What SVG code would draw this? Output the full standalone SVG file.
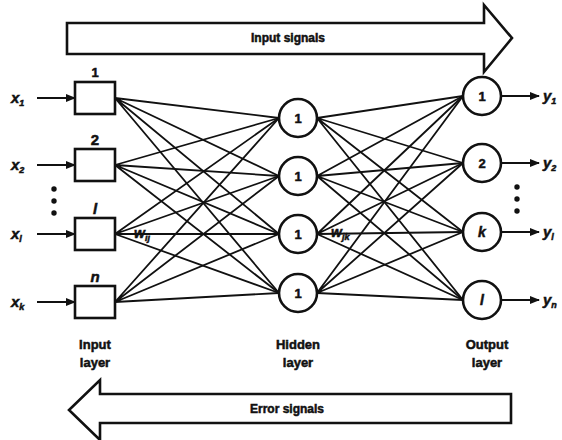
<svg xmlns="http://www.w3.org/2000/svg" width="562" height="440" viewBox="0 0 562 440">
<defs>
<marker id="ah" viewBox="0 0 10 10" refX="9" refY="5" markerWidth="11" markerHeight="10" markerUnits="userSpaceOnUse" orient="auto">
<path d="M0,1 L10,5 L0,9 Z" fill="#111"/>
</marker>
</defs>
<style>
.t{font-family:"Liberation Sans",Arial,sans-serif;font-weight:bold;fill:#111;stroke:#111;stroke-width:0.5}
.c{text-anchor:middle}
.i{font-style:italic}
.box{fill:#fff;stroke:#111;stroke-width:2.6}
.node{fill:#fff;stroke:#111;stroke-width:2.6}
.ln{stroke:#111;stroke-width:1.8;fill:none}
.io{stroke:#111;stroke-width:2.2;fill:none;marker-end:url(#ah)}
.big{fill:#fff;stroke:#111;stroke-width:2.6;stroke-linejoin:miter}
</style>
<rect width="562" height="440" fill="#fff"/>

<g id="input-signals">
<path class="big" d="M67,23 H484 V5 L512,38 L484,72 V54 H67 Z"/>
<text class="t c" x="288" y="42" font-size="12">Input signals</text>
</g>
<g id="error-signals">
<path class="big" d="M511,394 H100 V380 L69,410 L100,440 V423 H511 Z"/>
<text class="t c" x="287" y="413" font-size="12">Error signals</text>
</g>

<g id="connectors">
<path class="ln" d="M115,98 L279,118 M115,98 L279,176 M115,98 L279,234 M115,98 L279,293"/>
<path class="ln" d="M115,165 L279,118 M115,165 L279,176 M115,165 L279,234 M115,165 L279,293"/>
<path class="ln" d="M115,234 L279,118 M115,234 L279,176 M115,234 L279,234 M115,234 L279,293"/>
<path class="ln" d="M115,302 L279,118 M115,302 L279,176 M115,302 L279,234 M115,302 L279,293"/>
<path class="ln" d="M317,118 L463,96 M317,118 L463,163 M317,118 L463,232 M317,118 L463,300"/>
<path class="ln" d="M317,176 L463,96 M317,176 L463,163 M317,176 L463,232 M317,176 L463,300"/>
<path class="ln" d="M317,234 L463,96 M317,234 L463,163 M317,234 L463,232 M317,234 L463,300"/>
<path class="ln" d="M317,293 L463,96 M317,293 L463,163 M317,293 L463,232 M317,293 L463,300"/>
<path class="io" d="M37,98 H75"/>
<path class="io" d="M37,165 H75"/>
<path class="io" d="M37,234 H75"/>
<path class="io" d="M37,302 H75"/>
<path class="io" d="M501,96 H539"/>
<path class="io" d="M501,163 H539"/>
<path class="io" d="M501,232 H539"/>
<path class="io" d="M501,300 H539"/>
</g>

<g id="input-nodes">
<g id="in1"><rect class="box" x="75" y="82" width="40" height="32"/><text class="t c" x="95" y="77" font-size="13">1</text></g>
<g id="in2"><rect class="box" x="75" y="149" width="40" height="32"/><text class="t c" x="95" y="145" font-size="15">2</text></g>
<g id="inl"><rect class="box" x="75" y="218" width="40" height="32"/><text class="t c i" x="95" y="214" font-size="15">l</text></g>
<g id="inn"><rect class="box" x="75" y="286" width="40" height="32"/><text class="t c i" x="95" y="282" font-size="15">n</text></g>
</g>

<g id="hidden-nodes">
<g id="h1"><circle class="node" cx="298" cy="118" r="19"/><text class="t c" x="298" y="123" font-size="13">1</text></g>
<g id="h2"><circle class="node" cx="298" cy="176" r="19"/><text class="t c" x="298" y="181" font-size="13">1</text></g>
<g id="h3"><circle class="node" cx="298" cy="234" r="19"/><text class="t c" x="298" y="239" font-size="13">1</text></g>
<g id="h4"><circle class="node" cx="298" cy="293" r="19"/><text class="t c" x="298" y="298" font-size="13">1</text></g>
</g>

<g id="output-nodes">
<g id="o1"><circle class="node" cx="482" cy="96" r="19"/><text class="t c" x="482" y="101" font-size="13">1</text></g>
<g id="o2"><circle class="node" cx="482" cy="163" r="19"/><text class="t c" x="482" y="168" font-size="13">2</text></g>
<g id="ok"><circle class="node" cx="482" cy="232" r="19"/><text class="t c i" x="482" y="237" font-size="14">k</text></g>
<g id="ol"><circle class="node" cx="482" cy="300" r="19"/><text class="t c i" x="482" y="305" font-size="14">l</text></g>
</g>

<g id="labels">
<text class="t i" x="11" y="103" font-size="15">x<tspan font-size="9" dy="3">1</tspan></text>
<text class="t i" x="11" y="170" font-size="15">x<tspan font-size="9" dy="3">2</tspan></text>
<text class="t i" x="11" y="239" font-size="15">x<tspan font-size="9" dy="3">l</tspan></text>
<text class="t i" x="11" y="307" font-size="15">x<tspan font-size="9" dy="3">k</tspan></text>
<text class="t i" x="543" y="101" font-size="15">y<tspan font-size="9" dy="3">1</tspan></text>
<text class="t i" x="543" y="168" font-size="15">y<tspan font-size="9" dy="3">2</tspan></text>
<text class="t i" x="543" y="237" font-size="15">y<tspan font-size="9" dy="3">l</tspan></text>
<text class="t i" x="543" y="305" font-size="15">y<tspan font-size="9" dy="3">n</tspan></text>
<text class="t i" x="134" y="238" font-size="14">w<tspan font-size="9" dy="3">ij</tspan></text>
<text class="t i" x="331" y="237" font-size="14">w<tspan font-size="9" dy="3">jk</tspan></text>
<circle cx="54" cy="189" r="2.7" fill="#111"/>
<circle cx="54" cy="201" r="2.7" fill="#111"/>
<circle cx="54" cy="213" r="2.7" fill="#111"/>
<circle cx="517" cy="187" r="2.7" fill="#111"/>
<circle cx="517" cy="199" r="2.7" fill="#111"/>
<circle cx="517" cy="211" r="2.7" fill="#111"/>
<text class="t c" x="95" y="349" font-size="13">Input</text>
<text class="t c" x="95" y="367" font-size="13">layer</text>
<text class="t c" x="298" y="349" font-size="13">Hidden</text>
<text class="t c" x="298" y="367" font-size="13">layer</text>
<text class="t c" x="487" y="349" font-size="13">Output</text>
<text class="t c" x="487" y="367" font-size="13">layer</text>
</g>
</svg>
